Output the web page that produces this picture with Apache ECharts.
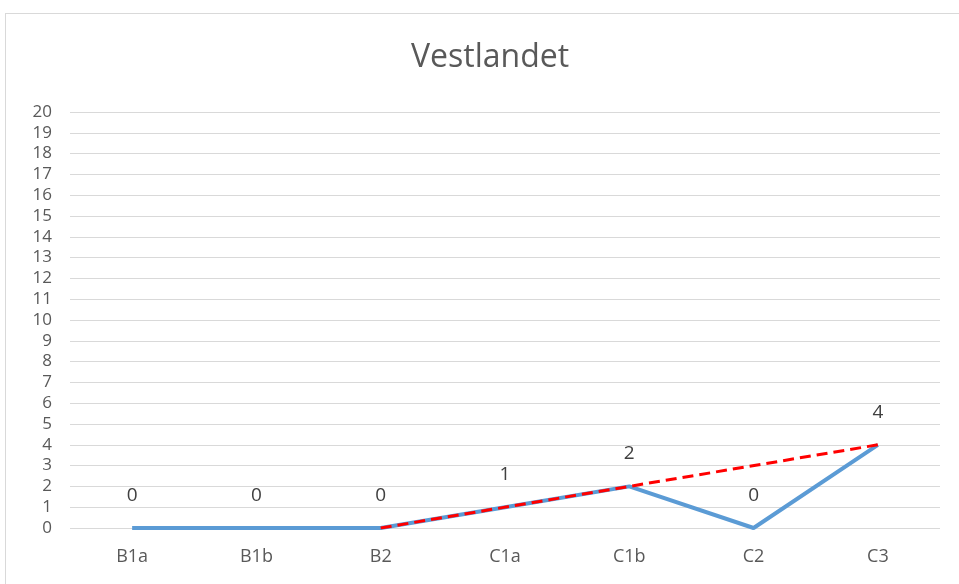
<!DOCTYPE html>
<html>
<head>
<meta charset="utf-8">
<script src="https://cdn.jsdelivr.net/npm/echarts@6/dist/echarts.min.js"></script>
<style>
    html, body { margin: 0; padding: 0; background: #fff; }
    #wrap { position: absolute; left: 5px; top: 13px; width: 960px; height: 580px;
            border-left: 1px solid #d9d9d9; border-top: 1px solid #d9d9d9; }
    #main { position: absolute; left: -6px; top: -14px; width: 959px; height: 584px; }
</style>
</head>
<body>
<div id="wrap"><div id="main"></div></div>
<script>
    var categories = ['B1a', 'B1b', 'B2', 'C1a', 'C1b', 'C2', 'C3'];
    var values = [0, 0, 0, 1, 2, 0, 4];
    // trend line, only the two ends, joined straight
    var trend = [null, null, 0, null, null, null, 4];
    var yTicks = { min: 0, max: 20, interval: 1 };

    var myChart = echarts.init(document.getElementById('main'));
    var option = {
        animation: false,
        title: {
            text: 'Vestlandet',
            left: 406,
            top: 37,
            textStyle: { fontFamily: 'Open Sans', fontSize: 32, fontWeight: 'normal', color: '#595959' }
        },
        grid: { left: 70, right: 19, top: 112, bottom: 56 },
        xAxis: {
            type: 'category',
            data: categories,
            boundaryGap: true,
            axisLine: { show: false },
            axisTick: { show: false },
            axisLabel: { margin: 20, fontFamily: 'Open Sans', fontSize: 18, color: '#595959' }
        },
        yAxis: {
            type: 'value',
            min: yTicks.min,
            max: yTicks.max,
            interval: yTicks.interval,
            axisLine: { show: false },
            axisTick: { show: false },
            axisLabel: { margin: 18, fontFamily: 'Open Sans', fontSize: 17, color: '#595959', lineHeight: 17 },
            splitLine: { lineStyle: { color: '#d9d9d9', width: 1 } }
        },
        series: [
            {
                type: 'line',
                data: values,
                symbol: 'circle',
                symbolSize: 2,
                showSymbol: true,
                itemStyle: { color: 'rgba(0,0,0,0)', borderWidth: 0 },
                lineStyle: { color: '#5b9bd5', width: 4 },
                label: {
                    show: true,
                    position: 'top',
                    distance: 22,
                    fontFamily: 'Open Sans',
                    fontSize: 19,
                    color: '#404040'
                },
                z: 2
            },
            {
                type: 'line',
                data: trend,
                connectNulls: true,
                symbol: 'none',
                lineStyle: { color: '#ff0000', width: 3, type: [11, 6] },
                z: 3
            }
        ]
    };
    myChart.setOption(option);
</script>
</body>
</html>
